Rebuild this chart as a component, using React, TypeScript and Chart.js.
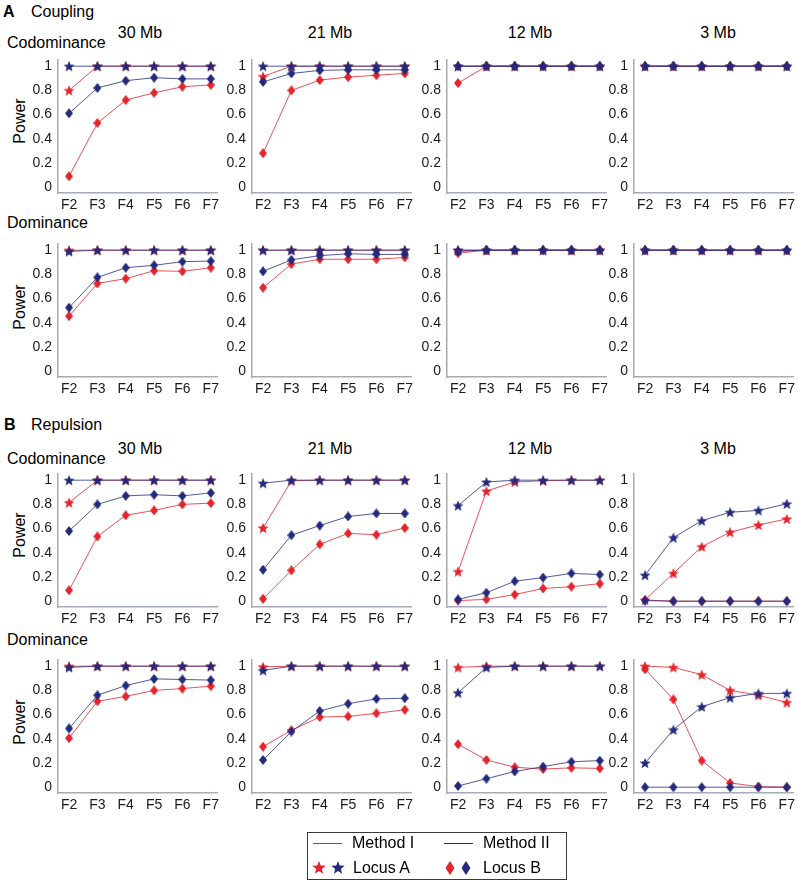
import React, { useEffect, useRef } from "react";
import { Chart, registerables } from "chart.js";
Chart.register(...registerables);

// ---------- labels ----------
const generations = ["F2", "F3", "F4", "F5", "F6", "F7"];
const genValues = [2, 3, 4, 5, 6, 7];
const yTickValues = [0, 0.2, 0.4, 0.6, 0.8, 1];
const distances = ["30 Mb", "21 Mb", "12 Mb", "3 Mb"];
const rowLabels = ["Codominance", "Dominance", "Codominance", "Dominance"];

// ---------- data: Method I / Method II, Locus A / Locus B ----------
// A Coupling — Codominance
const cpCo30_IA = [0.8, 1, 1, 1, 1, 1];
const cpCo30_IB = [0.09, 0.53, 0.72, 0.78, 0.83, 0.845];
const cpCo30_IIA = [1, 1, 1, 1, 1, 1];
const cpCo30_IIB = [0.61, 0.82, 0.88, 0.905, 0.895, 0.895];
const cpCo21_IA = [0.915, 1, 1, 1, 1, 1];
const cpCo21_IB = [0.28, 0.8, 0.885, 0.91, 0.925, 0.94];
const cpCo21_IIA = [1, 1, 1, 1, 1, 1];
const cpCo21_IIB = [0.87, 0.94, 0.965, 0.97, 0.97, 0.97];
const cpCo12_IA = [1, 1, 1, 1, 1, 1];
const cpCo12_IB = [0.86, 1, 1, 1, 1, 1];
const cpCo12_IIA = [1, 1, 1, 1, 1, 1];
const cpCo12_IIB = [1, 1, 1, 1, 1, 1];
const cpCo3_IA = [1, 1, 1, 1, 1, 1];
const cpCo3_IB = [1, 1, 1, 1, 1, 1];
const cpCo3_IIA = [1, 1, 1, 1, 1, 1];
const cpCo3_IIB = [1, 1, 1, 1, 1, 1];
// A Coupling — Dominance
const cpDo30_IA = [1, 1, 1, 1, 1, 1];
const cpDo30_IB = [0.455, 0.725, 0.765, 0.83, 0.825, 0.855];
const cpDo30_IIA = [0.99, 1, 1, 1, 1, 1];
const cpDo30_IIB = [0.525, 0.775, 0.855, 0.875, 0.905, 0.91];
const cpDo21_IA = [1, 1, 1, 1, 1, 1];
const cpDo21_IB = [0.69, 0.885, 0.925, 0.925, 0.925, 0.94];
const cpDo21_IIA = [1, 1, 1, 1, 1, 1];
const cpDo21_IIB = [0.825, 0.92, 0.955, 0.97, 0.965, 0.965];
const cpDo12_IA = [1, 1, 1, 1, 1, 1];
const cpDo12_IB = [0.975, 1, 1, 1, 1, 1];
const cpDo12_IIA = [1, 1, 1, 1, 1, 1];
const cpDo12_IIB = [0.99, 1, 1, 1, 1, 1];
const cpDo3_IA = [1, 1, 1, 1, 1, 1];
const cpDo3_IB = [1, 1, 1, 1, 1, 1];
const cpDo3_IIA = [1, 1, 1, 1, 1, 1];
const cpDo3_IIB = [1, 1, 1, 1, 1, 1];
// B Repulsion — Codominance
const rpCo30_IA = [0.815, 1, 1, 1, 1, 1];
const rpCo30_IB = [0.09, 0.535, 0.71, 0.75, 0.8, 0.81];
const rpCo30_IIA = [1, 1, 1, 1, 1, 1];
const rpCo30_IIB = [0.58, 0.8, 0.87, 0.88, 0.87, 0.895];
const rpCo21_IA = [0.605, 0.995, 1, 1, 1, 1];
const rpCo21_IB = [0.02, 0.255, 0.47, 0.56, 0.55, 0.605];
const rpCo21_IIA = [0.975, 1, 1, 1, 1, 1];
const rpCo21_IIB = [0.26, 0.545, 0.625, 0.7, 0.725, 0.725];
const rpCo12_IA = [0.245, 0.91, 0.985, 0.995, 1, 1];
const rpCo12_IB = [0.005, 0.015, 0.055, 0.105, 0.12, 0.145];
const rpCo12_IIA = [0.79, 0.985, 1, 1, 1, 1];
const rpCo12_IIB = [0.015, 0.07, 0.165, 0.195, 0.23, 0.22];
const rpCo3_IA = [0.01, 0.23, 0.45, 0.57, 0.63, 0.68];
const rpCo3_IB = [0.01, 0, 0, 0, 0, 0];
const rpCo3_IIA = [0.215, 0.525, 0.665, 0.735, 0.75, 0.805];
const rpCo3_IIB = [0.005, 0, 0, 0, 0, 0];
// B Repulsion — Dominance
const rpDo30_IA = [1, 1, 1, 1, 1, 1];
const rpDo30_IB = [0.405, 0.71, 0.75, 0.8, 0.815, 0.835];
const rpDo30_IIA = [0.99, 1, 1, 1, 1, 1];
const rpDo30_IIB = [0.485, 0.76, 0.84, 0.895, 0.89, 0.885];
const rpDo21_IA = [0.995, 1, 1, 1, 1, 1];
const rpDo21_IB = [0.335, 0.47, 0.58, 0.585, 0.61, 0.64];
const rpDo21_IIA = [0.965, 1, 1, 1, 1, 1];
const rpDo21_IIB = [0.225, 0.46, 0.63, 0.69, 0.73, 0.735];
const rpDo12_IA = [0.99, 1, 1, 1, 1, 1];
const rpDo12_IB = [0.355, 0.225, 0.165, 0.15, 0.16, 0.155];
const rpDo12_IIA = [0.78, 0.99, 1, 1, 1, 1];
const rpDo12_IIB = [0.01, 0.07, 0.13, 0.17, 0.21, 0.22];
const rpDo3_IA = [1, 0.99, 0.93, 0.8, 0.76, 0.7];
const rpDo3_IB = [0.975, 0.725, 0.22, 0.035, 0.005, 0];
const rpDo3_IIA = [0.2, 0.475, 0.665, 0.74, 0.775, 0.775];
const rpDo3_IIB = [0, 0, 0, 0, 0, 0];

type Series = { IA: number[]; IB: number[]; IIA: number[]; IIB: number[] };
const panelRows: Series[][] = [
  [
    { IA: cpCo30_IA, IB: cpCo30_IB, IIA: cpCo30_IIA, IIB: cpCo30_IIB },
    { IA: cpCo21_IA, IB: cpCo21_IB, IIA: cpCo21_IIA, IIB: cpCo21_IIB },
    { IA: cpCo12_IA, IB: cpCo12_IB, IIA: cpCo12_IIA, IIB: cpCo12_IIB },
    { IA: cpCo3_IA, IB: cpCo3_IB, IIA: cpCo3_IIA, IIB: cpCo3_IIB },
  ],
  [
    { IA: cpDo30_IA, IB: cpDo30_IB, IIA: cpDo30_IIA, IIB: cpDo30_IIB },
    { IA: cpDo21_IA, IB: cpDo21_IB, IIA: cpDo21_IIA, IIB: cpDo21_IIB },
    { IA: cpDo12_IA, IB: cpDo12_IB, IIA: cpDo12_IIA, IIB: cpDo12_IIB },
    { IA: cpDo3_IA, IB: cpDo3_IB, IIA: cpDo3_IIA, IIB: cpDo3_IIB },
  ],
  [
    { IA: rpCo30_IA, IB: rpCo30_IB, IIA: rpCo30_IIA, IIB: rpCo30_IIB },
    { IA: rpCo21_IA, IB: rpCo21_IB, IIA: rpCo21_IIA, IIB: rpCo21_IIB },
    { IA: rpCo12_IA, IB: rpCo12_IB, IIA: rpCo12_IIA, IIB: rpCo12_IIB },
    { IA: rpCo3_IA, IB: rpCo3_IB, IIA: rpCo3_IIA, IIB: rpCo3_IIB },
  ],
  [
    { IA: rpDo30_IA, IB: rpDo30_IB, IIA: rpDo30_IIA, IIB: rpDo30_IIB },
    { IA: rpDo21_IA, IB: rpDo21_IB, IIA: rpDo21_IIA, IIB: rpDo21_IIB },
    { IA: rpDo12_IA, IB: rpDo12_IB, IIA: rpDo12_IIA, IIB: rpDo12_IIB },
    { IA: rpDo3_IA, IB: rpDo3_IB, IIA: rpDo3_IIA, IIB: rpDo3_IIB },
  ],
];

// ---------- style / layout ----------
const FONT = "'Liberation Sans', Arial, Helvetica, sans-serif";
const RED = "#e4232b";
const NAVY = "#232a7c";
const RED_LINE = "rgba(232,50,60,0.85)";
const NAVY_LINE = "rgba(40,46,130,0.8)";
const AXIS = "#a6aabb";

const COL_LEFT = [58, 252, 447, 634];
const ROW_ONE = [62, 246, 476, 662]; // pixel of y=1
const PLOT_W = 159;
const UNIT = 125;
const Y_MAX = 1.056;
const Y_MIN = -0.048;
const X_MIN = 1.61;
const X_MAX = 7.22;
const YW = 40;
const PT = 10;
const PR = 8;
const XH = 24;
const PLOT_H = (Y_MAX - Y_MIN) * UNIT;

let markerCache: any = null;
function markers() {
  if (markerCache) return markerCache;
  const star = (color: string, R: number, r: number) => {
    const size = Math.ceil(R * 2) + 2;
    const c = document.createElement("canvas");
    c.width = size;
    c.height = size;
    const ctx = c.getContext("2d")!;
    ctx.beginPath();
    for (let i = 0; i < 10; i++) {
      const a = -Math.PI / 2 + (i * Math.PI) / 5;
      const rad = i % 2 === 0 ? R : r;
      ctx.lineTo(size / 2 + rad * Math.cos(a), size / 2 + 0.6 + rad * Math.sin(a));
    }
    ctx.closePath();
    ctx.fillStyle = color;
    ctx.fill();
    return c;
  };
  const diamond = (color: string, w: number, h: number) => {
    const c = document.createElement("canvas");
    c.width = w;
    c.height = h;
    const ctx = c.getContext("2d")!;
    ctx.beginPath();
    ctx.moveTo(w / 2, 0);
    ctx.lineTo(w, h / 2);
    ctx.lineTo(w / 2, h);
    ctx.lineTo(0, h / 2);
    ctx.closePath();
    ctx.fillStyle = color;
    ctx.fill();
    return c;
  };
  markerCache = {
    redStar: star(RED, 5.8, 2.5),
    navyStar: star(NAVY, 5.8, 2.5),
    redDiamond: diamond(RED, 8, 10),
    navyDiamond: diamond(NAVY, 8, 10),
  };
  return markerCache;
}

const toXY = (vals: number[]) => vals.map((y, i) => ({ x: genValues[i], y }));

function Panel({ row, col, series }: { row: number; col: number; series: Series }) {
  const ref = useRef<HTMLCanvasElement>(null);
  const left = COL_LEFT[col] - YW;
  const top = ROW_ONE[row] - (Y_MAX - 1) * UNIT - PT;
  const width = YW + PLOT_W + PR;
  const height = Math.round(PT + PLOT_H + XH);
  useEffect(() => {
    const m = markers();
    const ds = (vals: number[], line: string, style: any) => ({
      data: toXY(vals),
      borderColor: line,
      backgroundColor: line,
      borderWidth: 1,
      pointStyle: style,
      pointRadius: 5,
      tension: 0,
      fill: false,
      clip: false as any,
    });
    const chart = new Chart(ref.current!, {
      type: "line",
      data: {
        datasets: [
          ds(series.IIA, NAVY_LINE, m.navyStar),
          ds(series.IIB, NAVY_LINE, m.navyDiamond),
          ds(series.IA, RED_LINE, m.redStar),
          ds(series.IB, RED_LINE, m.redDiamond),
        ],
      },
      options: {
        animation: false,
        responsive: false,
        maintainAspectRatio: false,
        events: [],
        layout: { padding: { left: 0, top: PT, right: PR, bottom: 0 } },
        plugins: { legend: { display: false }, tooltip: { enabled: false } },
        scales: {
          x: {
            type: "linear",
            min: X_MIN,
            max: X_MAX,
            grid: { display: false, drawTicks: false },
            border: { display: true, color: AXIS, width: 1.5 },
            ticks: {
              font: { family: FONT, size: 14 },
              color: "#1a1a1a",
              padding: 4,
              maxRotation: 0,
              autoSkip: false,
              callback: (v: any) => generations[genValues.indexOf(Number(v))] ?? "",
            },
            afterBuildTicks: (s: any) => {
              s.ticks = genValues.map((v) => ({ value: v }));
            },
            afterFit: (s: any) => {
              s.height = XH;
            },
          },
          y: {
            type: "linear",
            min: Y_MIN,
            max: Y_MAX,
            grid: { display: false, drawTicks: false },
            border: { display: true, color: AXIS, width: 1.5 },
            ticks: {
              font: { family: FONT, size: 14 },
              color: "#1a1a1a",
              padding: 6,
              autoSkip: false,
              callback: (v: any) => String(Math.round(Number(v) * 10) / 10),
            },
            afterBuildTicks: (s: any) => {
              s.ticks = yTickValues.map((v) => ({ value: v }));
            },
            afterFit: (s: any) => {
              s.width = YW;
            },
          },
        },
      },
    });
    return () => chart.destroy();
  }, [series]);
  return (
    <canvas
      ref={ref}
      width={width}
      height={height}
      style={{ position: "absolute", left, top, width, height }}
    />
  );
}

function Text({ x, y, children, size = 16, bold = false, center = false }: any) {
  return (
    <div
      style={{
        position: "absolute",
        left: x,
        top: y,
        transform: center ? "translate(-50%, -50%)" : "translateY(-50%)",
        fontFamily: FONT,
        fontSize: size,
        fontWeight: bold ? "bold" : "normal",
        lineHeight: 1,
        whiteSpace: "nowrap",
        color: "#000",
      }}
    >
      {children}
    </div>
  );
}

const TITLE_X = [140, 330, 530, 718];
const TITLE_Y = [33, 449];
const ROWLABEL_Y = [43, 223, 459, 640];
const POWER_Y = [121, 307, 535, 722];

function StarSvg({ color, size }: { color: string; size: number }) {
  const R = size / 2;
  const r = R * 0.42;
  const pts: string[] = [];
  for (let i = 0; i < 10; i++) {
    const a = -Math.PI / 2 + (i * Math.PI) / 5;
    const rad = i % 2 === 0 ? R : r;
    pts.push(`${(R + rad * Math.cos(a)).toFixed(2)},${(R + 1 + rad * Math.sin(a)).toFixed(2)}`);
  }
  return (
    <svg width={size} height={size + 2} style={{ display: "block" }}>
      <polygon points={pts.join(" ")} fill={color} />
    </svg>
  );
}
function DiamondSvg({ color, w, h }: { color: string; w: number; h: number }) {
  return (
    <svg width={w} height={h} style={{ display: "block" }}>
      <polygon points={`${w / 2},0 ${w},${h / 2} ${w / 2},${h} 0,${h / 2}`} fill={color} />
    </svg>
  );
}

function Legend() {
  const abs = (x: number, y: number, el: any) => (
    <div style={{ position: "absolute", left: x, top: y, transform: "translate(-50%,-50%)" }}>{el}</div>
  );
  return (
    <>
      <div
        style={{
          position: "absolute",
          left: 307,
          top: 832,
          width: 260,
          height: 48,
          boxSizing: "border-box",
          border: "1px solid #3a3a3a",
          background: "#fff",
        }}
      />
      <div style={{ position: "absolute", left: 313, top: 842.5, width: 29, height: 1.5, background: RED }} />
      <Text x={352} y={843}>Method I</Text>
      <div style={{ position: "absolute", left: 444, top: 842.5, width: 29, height: 1.5, background: NAVY }} />
      <Text x={483} y={843}>Method II</Text>
      {abs(319, 868, <StarSvg color={RED} size={14} />)}
      {abs(338, 868, <StarSvg color={NAVY} size={14} />)}
      <Text x={353} y={868}>Locus A</Text>
      {abs(450, 868, <DiamondSvg color={RED} w={9} h={14} />)}
      {abs(466, 868, <DiamondSvg color={NAVY} w={9} h={14} />)}
      <Text x={483} y={868}>Locus B</Text>
    </>
  );
}

export default function App() {
  return (
    <div
      style={{
        position: "absolute",
        left: 0,
        top: 0,
        width: 798,
        height: 884,
        overflow: "hidden",
        background: "#fff",
      }}
    >
      <Text x={3} y={12} bold>A</Text>
      <Text x={31} y={12}>Coupling</Text>
      <Text x={4} y={425} bold>B</Text>
      <Text x={31} y={425}>Repulsion</Text>
      {TITLE_Y.map((ty, k) =>
        distances.map((d, c) => (
          <Text key={`t${k}${c}`} x={TITLE_X[c]} y={ty} center>
            {d}
          </Text>
        ))
      )}
      {rowLabels.map((lab, r) => (
        <Text key={`r${r}`} x={7} y={ROWLABEL_Y[r]}>
          {lab}
        </Text>
      ))}
      {POWER_Y.map((py, r) => (
        <div
          key={`p${r}`}
          style={{
            position: "absolute",
            left: 20,
            top: py,
            transform: "translate(-50%, -50%) rotate(-90deg)",
            fontFamily: FONT,
            fontSize: 16,
            lineHeight: 1,
            whiteSpace: "nowrap",
          }}
        >
          Power
        </div>
      ))}
      {panelRows.map((rowSeries, r) =>
        rowSeries.map((s, c) => <Panel key={`${r}-${c}`} row={r} col={c} series={s} />)
      )}
      <Legend />
    </div>
  );
}
